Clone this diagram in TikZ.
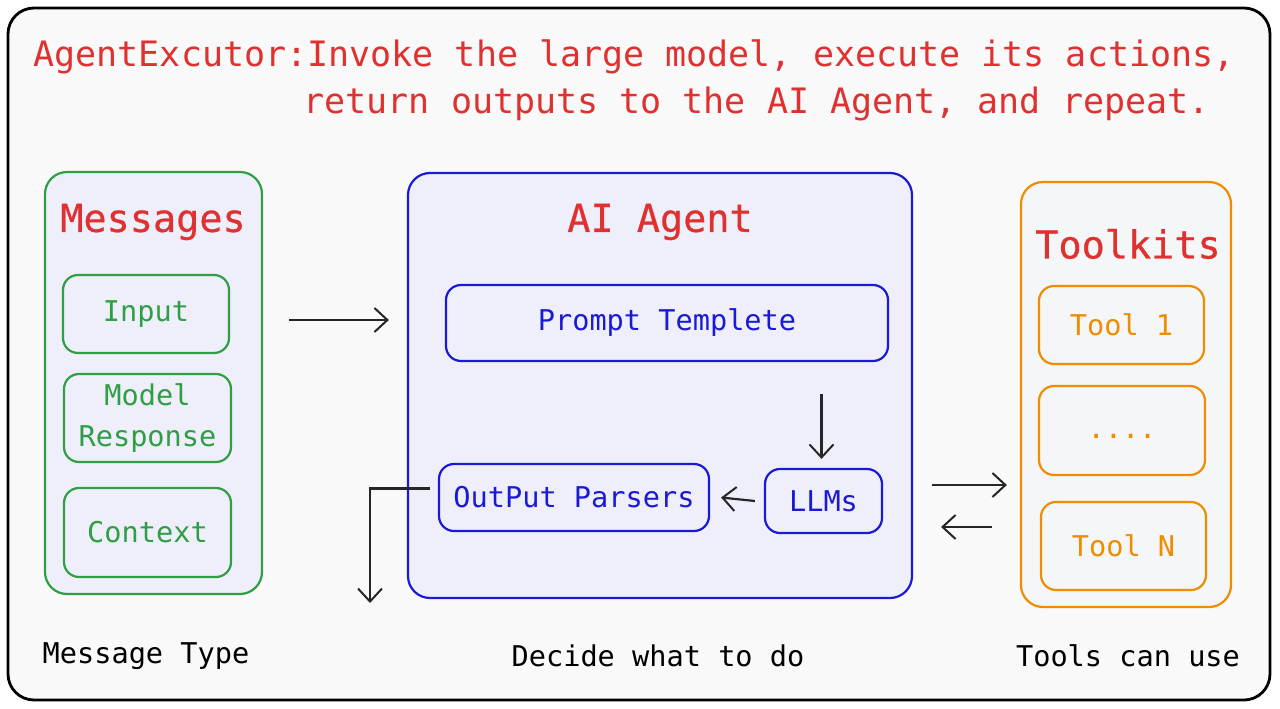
\documentclass[tikz,border=0pt]{standalone}
\usepackage{fontspec}
\newfontfamily\mono{DejaVu Sans Mono}
\newfontfamily\monoh[FakeBold=0.6]{DejaVu Sans Mono}
\usetikzlibrary{arrows.meta,calc}
\definecolor{cred}{HTML}{E03131}
\definecolor{cgreen}{HTML}{2F9E44}
\definecolor{cblue}{HTML}{1A1AD6}
\definecolor{corange}{HTML}{F08C00}
\definecolor{lav}{HTML}{EFEFFC}
\definecolor{lgrey}{HTML}{F5F6F8}
\definecolor{bg}{HTML}{F9F9F9}
\begin{document}
\begin{tikzpicture}[x=1pt,y=-1pt,
  box/.style={draw, rounded corners=15pt, line width=2.2pt, inner sep=0pt},
  bigbox/.style={box, rounded corners=22pt},
  lbl/.style={font=\mono\fontsize{28.6}{41}\selectfont},
  head/.style={font=\monoh\fontsize{38.5}{46}\selectfont, text=cred},
  ttl/.style={font=\mono\fontsize{35}{42}\selectfont, text=cred, anchor=west},
  foot/.style={font=\mono\fontsize{28.6}{34}\selectfont, text=black},
  arr/.style={-{Straight Barb[length=13pt,width=24pt,line width=2pt]}, line width=2.2pt, draw=black!85},
]
\useasboundingbox (0,0) rectangle (1280,709);
\node[draw, line width=2.8pt, rounded corners=26pt, fill=bg, minimum width=1262pt, minimum height=692pt] (frame) at (639,354) {};

% title
\node[ttl] (t1) at (30,57) {AgentExcutor:Invoke the large model, execute its actions,};
\node[ttl] (t2) at (300,104) {return outputs to the AI Agent, and repeat.};

% Messages
\node[bigbox, draw=cgreen, fill=lav, minimum width=217pt, minimum height=422pt] (msgs) at (153.5,383) {};
\node[head] (msgsh) at (153,222) {Messages};
\node[box, draw=cgreen, fill=lav, text=cgreen, lbl, minimum width=166pt, minimum height=78pt] (inp) at (146,314) {Input};
\node[box, draw=cgreen, fill=lav, text=cgreen, lbl, align=center, minimum width=167pt, minimum height=88pt] (mr) at (147.5,418) {Model\\Response};
\node[box, draw=cgreen, fill=lav, text=cgreen, lbl, minimum width=167pt, minimum height=89pt] (ctx) at (147.5,532.5) {Context};

% AI Agent
\node[bigbox, draw=cblue, fill=lav, minimum width=504pt, minimum height=425pt] (agent) at (660,385.5) {};
\node[head] (agenth) at (660,222) {AI Agent};
\node[box, draw=cblue, fill=lav, text=cblue, lbl, minimum width=442pt, minimum height=76pt] (pt) at (667,323) {Prompt Templete};
\node[box, draw=cblue, fill=lav, text=cblue, lbl, minimum width=117pt, minimum height=64pt] (llm) at (823.5,501) {LLMs};
\node[box, draw=cblue, fill=lav, text=cblue, lbl, minimum width=270pt, minimum height=67pt] (op) at (574,497.5) {OutPut Parsers};

% Toolkits
\node[bigbox, draw=corange, fill=lgrey, minimum width=210pt, minimum height=425pt] (tk) at (1126,394.5) {};
\node[head] (tkh) at (1128,244) {Toolkits};
\node[box, draw=corange, fill=lgrey, text=corange, lbl, minimum width=165pt, minimum height=78pt] (t1b) at (1121.5,325) {Tool 1};
\node[box, draw=corange, fill=lgrey, minimum width=166pt, minimum height=89pt] (tdots) at (1122,430.5) {};
\node[lbl, text=corange] (dots) at (1122,436) {....};
\node[box, draw=corange, fill=lgrey, text=corange, lbl, minimum width=165pt, minimum height=88pt] (tn) at (1123.5,546) {Tool N};

% footers
\node[foot] (f1) at (146,656) {Message Type};
\node[foot] (f2) at (658,656) {Decide what to do};
\node[foot] (f3) at (1128,656) {Tools can use};

% arrows
\draw[arr] ($(msgs.east |- 0,320)+(26,0)$) -- ($(agent.west |- 0,320)+(-18,0)$);
\draw[arr] ($(llm.north |- pt.south)+(-2,32)$) -- ($(llm.north)+(-2,-9)$);
\draw[arr] ($(llm.west)+(-9,0)$) -- ($(op.east)+(11,0)$);
\coordinate (outend) at (370,603);
\draw[arr] ($(op.west)+(-8,-9)$) -| (outend);
\draw[arr] ($(agent.east |- 0,485)+(19,0)$) -- ($(tk.west |- 0,485)+(-13,0)$);
\draw[arr] ($(tk.west |- 0,527)+(-28,0)$) -- ($(agent.east |- 0,527)+(28,0)$);
\end{tikzpicture}
\end{document}
